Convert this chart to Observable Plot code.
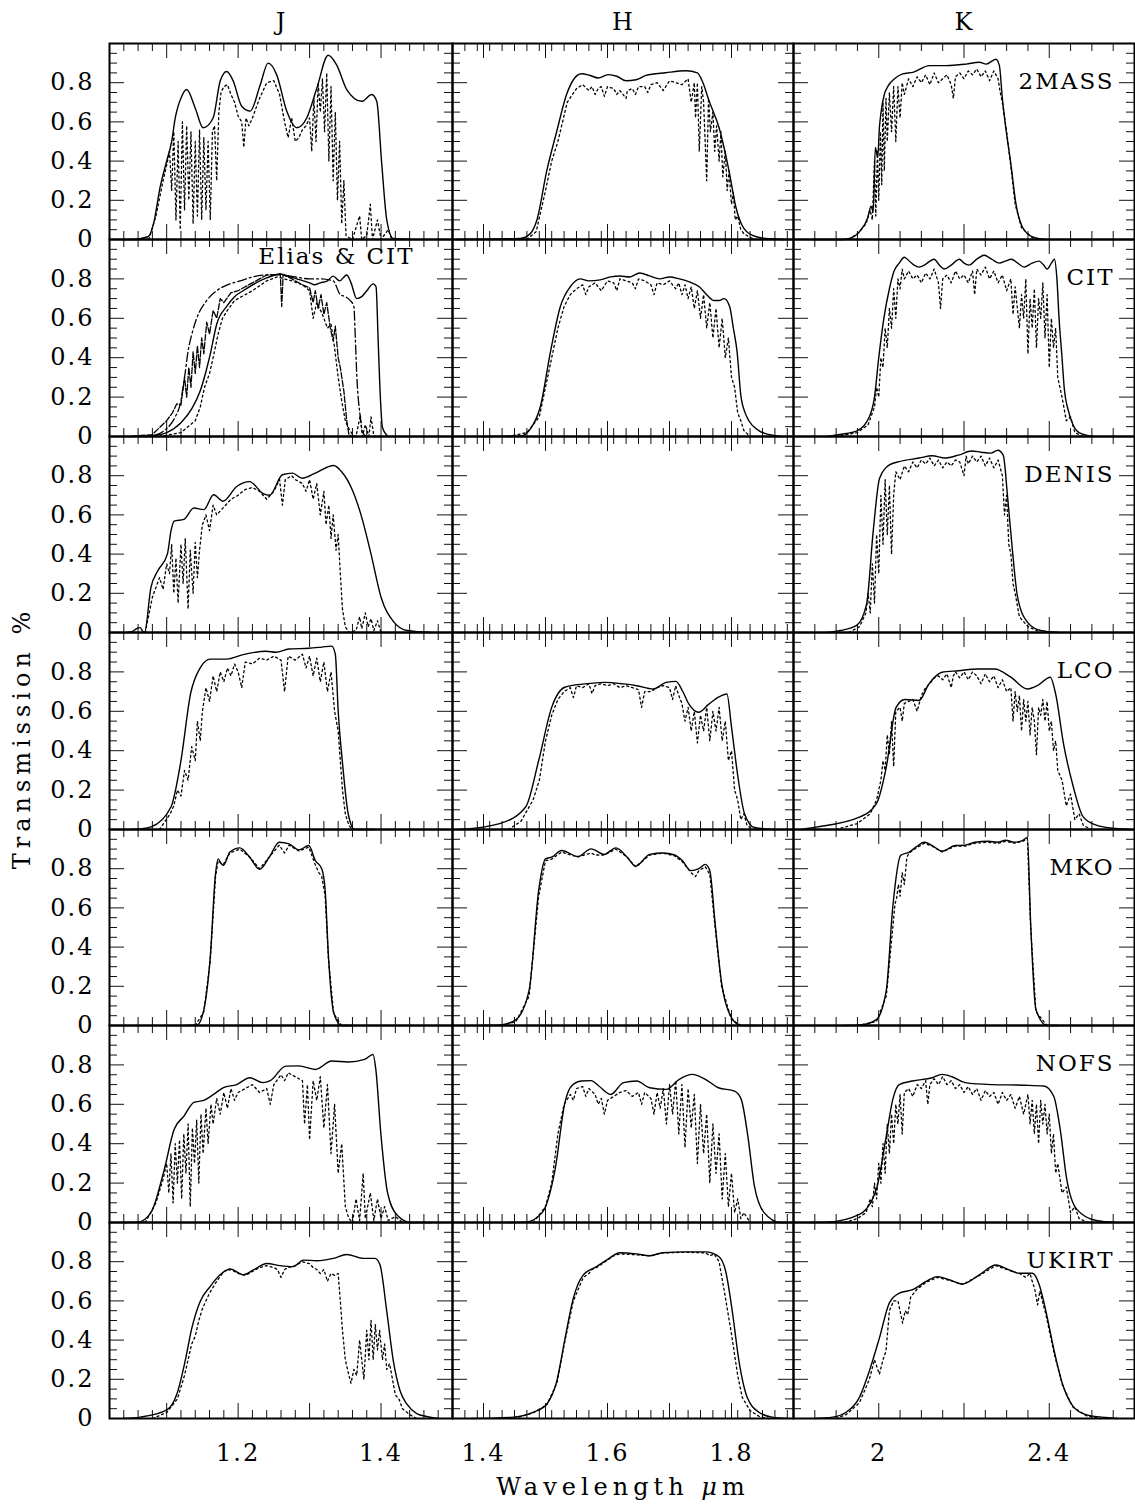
<!DOCTYPE html>
<html><head><meta charset="utf-8">
<script src="https://cdn.jsdelivr.net/npm/d3@7"></script>
<script src="https://cdn.jsdelivr.net/npm/@observablehq/plot@0.6"></script>
<style>
body{margin:0;background:#fff;}
#fig{position:relative;width:1135px;height:1507px;font-family:"DejaVu Serif",serif;color:#000;background:#fff;overflow:hidden;}
.lbl{position:absolute;white-space:nowrap;font-size:23px;transform:translate(-50%,-50%);}
</style></head><body><div id="fig"></div>
<script>
// ---------- axis / tick data ----------
const bands = ["J", "H", "K"];
const systems = ["2MASS", "CIT", "DENIS", "LCO", "MKO", "NOFS", "UKIRT"];
const xDomainJ = [1.02, 1.50];
const xDomainH = [1.35, 1.90];
const xDomainK = [1.80, 2.60];
const xMajorJ = [1.1, 1.2, 1.3, 1.4];
const xMajorH = [1.4, 1.5, 1.6, 1.7, 1.8];
const xMajorK = [2.0, 2.2, 2.4];
const xMinorStep = [0.02, 0.02, 0.05];
const xLabelsJ = [1.2, 1.4];
const xLabelsH = [1.4, 1.6, 1.8];
const xLabelsK = [2, 2.4];
const yLabels = [0, 0.2, 0.4, 0.6, 0.8];
const yMajor = [0.2, 0.4, 0.6, 0.8];

// ---------- 2MASS ----------
const j2massSolid = [[1.04,0],[1.051,0],[1.074,0.014],[1.0816,0.08],[1.091,0.27],[1.100,0.40],[1.107,0.50],[1.112,0.62],[1.121,0.73],[1.128,0.765],[1.140,0.67],[1.151,0.57],[1.165,0.62],[1.175,0.81],[1.184,0.857],[1.193,0.81],[1.205,0.68],[1.217,0.655],[1.231,0.79],[1.242,0.90],[1.254,0.84],[1.268,0.655],[1.282,0.57],[1.296,0.62],[1.310,0.77],[1.326,0.94],[1.338,0.89],[1.352,0.765],[1.373,0.705],[1.387,0.74],[1.394,0.705],[1.401,0.385],[1.408,0.10],[1.417,0.005],[1.44,0]];
const j2massDotted = [[1.075,0],[1.085,0.12],[1.095,0.3],[1.100,0.38],[1.104,0.45],[1.107,0.25],[1.110,0.55],[1.113,0.1],[1.116,0.5],[1.119,0.05],[1.122,0.6],[1.125,0.15],[1.128,0.58],[1.131,0.2],[1.134,0.55],[1.137,0.08],[1.140,0.5],[1.143,0.12],[1.146,0.56],[1.149,0.1],[1.152,0.52],[1.155,0.15],[1.158,0.5],[1.161,0.1],[1.164,0.55],[1.167,0.58],[1.170,0.3],[1.173,0.65],[1.176,0.75],[1.180,0.78],[1.185,0.79],[1.190,0.74],[1.195,0.7],[1.200,0.63],[1.205,0.6],[1.208,0.47],[1.211,0.62],[1.215,0.58],[1.220,0.62],[1.230,0.72],[1.240,0.8],[1.250,0.81],[1.258,0.74],[1.265,0.6],[1.270,0.52],[1.275,0.62],[1.280,0.5],[1.285,0.52],[1.290,0.56],[1.295,0.58],[1.300,0.62],[1.303,0.45],[1.306,0.72],[1.309,0.5],[1.312,0.8],[1.315,0.65],[1.318,0.82],[1.321,0.55],[1.324,0.85],[1.327,0.4],[1.330,0.78],[1.333,0.3],[1.336,0.65],[1.339,0.2],[1.342,0.5],[1.345,0.08],[1.348,0.3],[1.351,0.02],[1.355,0.01],[1.36,0],[1.37,0.12],[1.373,0],[1.38,0.02],[1.385,0.18],[1.388,0],[1.395,0.1],[1.40,0],[1.41,0.05],[1.415,0]];
const h2massSolid = [[1.358,0],[1.459,0.005],[1.4755,0.03],[1.486,0.098],[1.502,0.35],[1.518,0.55],[1.534,0.74],[1.545,0.815],[1.558,0.846],[1.571,0.838],[1.585,0.824],[1.601,0.841],[1.615,0.833],[1.630,0.81],[1.646,0.815],[1.662,0.837],[1.694,0.851],[1.727,0.861],[1.745,0.85],[1.753,0.807],[1.764,0.706],[1.780,0.57],[1.796,0.35],[1.807,0.166],[1.817,0.073],[1.833,0.022],[1.855,0.005],[1.885,0]];
const h2massDotted = [[1.47,0],[1.485,0.04],[1.5,0.25],[1.51,0.4],[1.52,0.5],[1.535,0.7],[1.55,0.77],[1.56,0.79],[1.57,0.76],[1.575,0.78],[1.58,0.74],[1.585,0.77],[1.59,0.78],[1.595,0.73],[1.6,0.78],[1.61,0.77],[1.615,0.74],[1.62,0.76],[1.63,0.72],[1.632,0.76],[1.64,0.77],[1.645,0.74],[1.65,0.78],[1.66,0.78],[1.665,0.75],[1.67,0.79],[1.68,0.8],[1.69,0.76],[1.70,0.81],[1.71,0.8],[1.72,0.79],[1.73,0.82],[1.735,0.7],[1.74,0.8],[1.742,0.62],[1.745,0.8],[1.748,0.45],[1.752,0.78],[1.755,0.7],[1.76,0.3],[1.763,0.72],[1.766,0.55],[1.77,0.65],[1.773,0.45],[1.776,0.58],[1.78,0.4],[1.783,0.55],[1.786,0.32],[1.79,0.45],[1.793,0.25],[1.796,0.35],[1.8,0.18],[1.803,0.24],[1.806,0.1],[1.81,0.12],[1.815,0.05],[1.82,0.03],[1.83,0.01],[1.84,0]];
const k2massSolid = [[1.845,0],[1.915,0],[1.931,0.005],[1.955,0.04],[1.974,0.11],[1.982,0.17],[1.987,0.14],[1.992,0.47],[1.9977,0.42],[2.0015,0.57],[2.0055,0.65],[2.013,0.74],[2.021,0.78],[2.037,0.82],[2.056,0.845],[2.08,0.853],[2.119,0.887],[2.158,0.887],[2.205,0.895],[2.236,0.904],[2.252,0.895],[2.275,0.92],[2.283,0.887],[2.29,0.72],[2.298,0.57],[2.31,0.385],[2.322,0.18],[2.337,0.064],[2.361,0.013],[2.39,0]];
const k2massDotted = [[1.93,0],[1.95,0.03],[1.97,0.08],[1.98,0.15],[1.985,0.1],[1.99,0.4],[1.993,0.12],[1.997,0.45],[2.0,0.2],[2.004,0.55],[2.007,0.28],[2.01,0.7],[2.013,0.35],[2.017,0.72],[2.02,0.5],[2.025,0.75],[2.03,0.55],[2.035,0.78],[2.04,0.5],[2.045,0.78],[2.05,0.62],[2.055,0.8],[2.06,0.74],[2.07,0.82],[2.08,0.78],[2.09,0.83],[2.1,0.8],[2.11,0.84],[2.12,0.79],[2.13,0.85],[2.14,0.8],[2.15,0.82],[2.16,0.84],[2.17,0.79],[2.175,0.72],[2.18,0.83],[2.19,0.85],[2.2,0.82],[2.21,0.86],[2.22,0.84],[2.23,0.87],[2.24,0.83],[2.25,0.86],[2.26,0.81],[2.27,0.86],[2.28,0.82],[2.285,0.75],[2.29,0.7],[2.3,0.55],[2.31,0.37],[2.32,0.18],[2.335,0.06],[2.36,0.01],[2.38,0]];

// ---------- Elias & CIT ----------
const jCitSolid = [[1.07,0],[1.081,0.005],[1.1,0.02],[1.12,0.07],[1.135,0.14],[1.147,0.232],[1.155,0.33],[1.161,0.418],[1.17,0.57],[1.184,0.66],[1.195,0.71],[1.207,0.74],[1.225,0.78],[1.24,0.805],[1.259,0.825],[1.273,0.81],[1.287,0.795],[1.3,0.78],[1.307,0.77],[1.315,0.78],[1.325,0.79],[1.333,0.814],[1.342,0.79],[1.352,0.82],[1.358,0.78],[1.366,0.70],[1.373,0.71],[1.38,0.74],[1.389,0.775],[1.393,0.76],[1.396,0.485],[1.3986,0.232],[1.402,0.046],[1.41,0]];
const jCitDotted = [[1.09,0],[1.12,0.02],[1.14,0.08],[1.147,0.15],[1.153,0.25],[1.16,0.32],[1.165,0.4],[1.172,0.52],[1.178,0.6],[1.185,0.64],[1.195,0.69],[1.21,0.72],[1.22,0.74],[1.24,0.79],[1.255,0.81],[1.265,0.8],[1.275,0.79],[1.29,0.77],[1.3,0.74],[1.305,0.6],[1.31,0.68],[1.318,0.62],[1.325,0.55],[1.33,0.57],[1.335,0.45],[1.34,0.3],[1.345,0.18],[1.35,0.08],[1.355,0.04],[1.36,0.01],[1.365,0],[1.371,0.11],[1.374,0],[1.378,0.06],[1.383,0],[1.386,0.1],[1.39,0],[1.4,0]];
const jEliasDashDot = [[1.06,0],[1.08,0.005],[1.1,0.04],[1.112,0.1],[1.119,0.166],[1.125,0.3],[1.13,0.434],[1.136,0.53],[1.142,0.6],[1.156,0.69],[1.17,0.74],[1.185,0.77],[1.203,0.79],[1.22,0.81],[1.24,0.82],[1.26,0.82],[1.28,0.81],[1.3,0.8],[1.315,0.8],[1.333,0.79],[1.343,0.72],[1.35,0.71],[1.357,0.69],[1.362,0.66],[1.364,0.5],[1.366,0.316],[1.371,0.097],[1.374,0.02],[1.38,0]];
const jEliasAtm = [[1.05,0],[1.08,0.01],[1.1,0.08],[1.108,0.12],[1.114,0.165],[1.12,0.16],[1.125,0.3],[1.128,0.2],[1.131,0.35],[1.134,0.25],[1.137,0.43],[1.14,0.32],[1.143,0.46],[1.146,0.35],[1.149,0.5],[1.152,0.42],[1.156,0.58],[1.16,0.52],[1.165,0.64],[1.17,0.6],[1.175,0.70],[1.18,0.68],[1.19,0.73],[1.2,0.74],[1.21,0.76],[1.22,0.78],[1.23,0.8],[1.24,0.82],[1.25,0.82],[1.259,0.825],[1.261,0.66],[1.263,0.82],[1.27,0.81],[1.28,0.79],[1.29,0.77],[1.3,0.755],[1.305,0.68],[1.308,0.74],[1.312,0.65],[1.316,0.72],[1.32,0.62],[1.324,0.68],[1.329,0.55],[1.333,0.485],[1.336,0.56],[1.34,0.4],[1.343,0.35],[1.348,0.23],[1.352,0.08],[1.355,0.01],[1.36,0]];
const hCitSolid = [[1.40,0],[1.46,0.003],[1.476,0.04],[1.492,0.155],[1.508,0.43],[1.524,0.66],[1.54,0.76],[1.556,0.8],[1.57,0.79],[1.588,0.795],[1.605,0.81],[1.62,0.815],[1.636,0.81],[1.652,0.83],[1.668,0.815],[1.684,0.8],[1.7,0.81],[1.716,0.8],[1.732,0.785],[1.748,0.76],[1.76,0.72],[1.772,0.69],[1.78,0.69],[1.788,0.70],[1.797,0.66],[1.803,0.55],[1.809,0.43],[1.815,0.21],[1.822,0.12],[1.828,0.08],[1.844,0.03],[1.86,0.01],[1.88,0]];
const hCitDotted = [[1.44,0],[1.47,0.02],[1.49,0.1],[1.5,0.25],[1.51,0.4],[1.52,0.55],[1.53,0.66],[1.54,0.72],[1.55,0.75],[1.56,0.77],[1.565,0.72],[1.57,0.76],[1.58,0.78],[1.59,0.74],[1.6,0.79],[1.61,0.78],[1.615,0.74],[1.62,0.8],[1.63,0.79],[1.64,0.78],[1.645,0.75],[1.65,0.8],[1.66,0.79],[1.67,0.77],[1.675,0.72],[1.68,0.78],[1.69,0.77],[1.7,0.79],[1.71,0.75],[1.715,0.78],[1.72,0.72],[1.725,0.77],[1.73,0.7],[1.735,0.76],[1.74,0.65],[1.745,0.74],[1.75,0.6],[1.755,0.72],[1.76,0.55],[1.765,0.68],[1.77,0.5],[1.775,0.65],[1.78,0.45],[1.785,0.6],[1.79,0.4],[1.795,0.5],[1.8,0.3],[1.805,0.25],[1.81,0.12],[1.815,0.08],[1.82,0.03],[1.83,0]];
const kCitSolid = [[1.88,0],[1.908,0.01],[1.95,0.03],[1.978,0.1],[1.99,0.2],[2.0,0.4],[2.012,0.6],[2.025,0.75],[2.036,0.84],[2.048,0.88],[2.06,0.91],[2.072,0.89],[2.083,0.87],[2.095,0.86],[2.107,0.87],[2.12,0.89],[2.13,0.9],[2.142,0.87],[2.154,0.85],[2.17,0.87],[2.189,0.9],[2.2,0.88],[2.212,0.87],[2.23,0.9],[2.247,0.92],[2.265,0.9],[2.283,0.88],[2.297,0.89],[2.311,0.9],[2.326,0.88],[2.341,0.86],[2.36,0.88],[2.376,0.89],[2.387,0.87],[2.395,0.85],[2.405,0.88],[2.412,0.9],[2.418,0.8],[2.423,0.6],[2.43,0.4],[2.435,0.25],[2.445,0.13],[2.452,0.08],[2.47,0.02],[2.505,0]];
const kCitDotted = [[1.9,0],[1.95,0.02],[1.975,0.06],[1.99,0.15],[1.995,0.25],[2.0,0.2],[2.005,0.4],[2.01,0.35],[2.015,0.55],[2.02,0.45],[2.025,0.65],[2.03,0.55],[2.035,0.75],[2.04,0.6],[2.045,0.8],[2.05,0.75],[2.055,0.85],[2.06,0.8],[2.07,0.84],[2.08,0.8],[2.09,0.82],[2.1,0.78],[2.11,0.83],[2.12,0.8],[2.13,0.85],[2.14,0.78],[2.145,0.65],[2.15,0.8],[2.16,0.82],[2.17,0.78],[2.18,0.84],[2.19,0.8],[2.2,0.82],[2.21,0.78],[2.22,0.84],[2.225,0.72],[2.23,0.85],[2.24,0.82],[2.25,0.86],[2.26,0.8],[2.27,0.84],[2.28,0.78],[2.29,0.82],[2.3,0.74],[2.31,0.8],[2.315,0.62],[2.32,0.76],[2.33,0.55],[2.335,0.72],[2.34,0.6],[2.345,0.8],[2.35,0.42],[2.355,0.7],[2.36,0.55],[2.365,0.75],[2.37,0.45],[2.375,0.7],[2.38,0.6],[2.385,0.78],[2.39,0.5],[2.395,0.72],[2.4,0.35],[2.405,0.6],[2.41,0.45],[2.415,0.55],[2.42,0.3],[2.43,0.2],[2.44,0.08],[2.45,0.1],[2.46,0.02],[2.48,0]];

// ---------- DENIS ----------
const jDenisSolid = [[1.045,0],[1.052,0.005],[1.058,0.02],[1.063,0.025],[1.067,0.003],[1.069,0],[1.078,0.23],[1.0876,0.315],[1.101,0.40],[1.106,0.517],[1.1105,0.568],[1.124,0.577],[1.138,0.635],[1.152,0.627],[1.1656,0.703],[1.179,0.67],[1.198,0.745],[1.216,0.77],[1.2345,0.71],[1.244,0.70],[1.262,0.805],[1.276,0.813],[1.2897,0.787],[1.308,0.813],[1.3337,0.852],[1.3448,0.82],[1.3586,0.737],[1.372,0.60],[1.386,0.40],[1.40,0.18],[1.418,0.053],[1.4366,0.01],[1.47,0]];
const jDenisDotted = [[1.07,0],[1.08,0.18],[1.09,0.28],[1.095,0.22],[1.10,0.35],[1.104,0.3],[1.107,0.45],[1.11,0.2],[1.113,0.38],[1.116,0.15],[1.12,0.45],[1.123,0.25],[1.126,0.48],[1.13,0.12],[1.133,0.42],[1.137,0.2],[1.14,0.46],[1.143,0.28],[1.146,0.42],[1.15,0.55],[1.155,0.6],[1.16,0.52],[1.165,0.65],[1.17,0.6],[1.175,0.62],[1.18,0.64],[1.19,0.68],[1.2,0.7],[1.21,0.73],[1.22,0.74],[1.23,0.72],[1.24,0.68],[1.25,0.72],[1.258,0.78],[1.262,0.65],[1.266,0.78],[1.275,0.8],[1.28,0.78],[1.29,0.76],[1.295,0.72],[1.3,0.78],[1.305,0.68],[1.31,0.76],[1.315,0.6],[1.32,0.72],[1.323,0.55],[1.327,0.65],[1.33,0.48],[1.333,0.6],[1.337,0.42],[1.34,0.5],[1.343,0.3],[1.346,0.12],[1.35,0.03],[1.355,0],[1.365,0.01],[1.37,0.08],[1.373,0.02],[1.378,0.1],[1.382,0.03],[1.386,0.07],[1.39,0.01],[1.395,0.06],[1.4,0]];
const kDenisSolid = [[1.88,0],[1.91,0.01],[1.948,0.036],[1.9716,0.146],[1.987,0.517],[2.002,0.787],[2.025,0.855],[2.048,0.872],[2.0946,0.89],[2.1255,0.902],[2.155,0.89],[2.187,0.905],[2.218,0.926],[2.24,0.92],[2.263,0.915],[2.2795,0.93],[2.292,0.905],[2.3025,0.686],[2.313,0.433],[2.3257,0.18],[2.3487,0.053],[2.3796,0.01],[2.42,0]];
const kDenisDotted = [[1.93,0],[1.955,0.03],[1.97,0.1],[1.975,0.2],[1.98,0.1],[1.985,0.35],[1.99,0.15],[1.995,0.5],[2.0,0.3],[2.005,0.7],[2.01,0.45],[2.015,0.78],[2.02,0.5],[2.025,0.75],[2.03,0.4],[2.035,0.7],[2.04,0.82],[2.05,0.78],[2.06,0.85],[2.07,0.82],[2.08,0.87],[2.09,0.84],[2.1,0.88],[2.11,0.86],[2.12,0.89],[2.13,0.85],[2.14,0.88],[2.15,0.84],[2.16,0.87],[2.17,0.85],[2.18,0.88],[2.19,0.87],[2.2,0.8],[2.205,0.9],[2.21,0.86],[2.22,0.9],[2.23,0.87],[2.24,0.9],[2.25,0.85],[2.26,0.89],[2.27,0.84],[2.28,0.88],[2.29,0.8],[2.295,0.6],[2.3,0.7],[2.305,0.45],[2.31,0.4],[2.315,0.25],[2.32,0.2],[2.33,0.08],[2.35,0.03],[2.38,0]];

// ---------- LCO ----------
const jLcoSolid = [[1.05,0],[1.063,0.003],[1.0783,0.013],[1.106,0.114],[1.12,0.35],[1.1334,0.688],[1.1473,0.823],[1.161,0.865],[1.184,0.865],[1.207,0.888],[1.239,0.905],[1.253,0.90],[1.271,0.916],[1.299,0.92],[1.317,0.926],[1.331,0.931],[1.336,0.89],[1.34,0.604],[1.3466,0.317],[1.354,0.08],[1.363,0],[1.39,0]];
const jLcoDotted = [[1.09,0],[1.105,0.08],[1.11,0.12],[1.115,0.2],[1.12,0.17],[1.125,0.3],[1.13,0.25],[1.135,0.42],[1.14,0.35],[1.143,0.55],[1.147,0.45],[1.15,0.6],[1.155,0.72],[1.16,0.65],[1.165,0.78],[1.17,0.7],[1.175,0.8],[1.18,0.75],[1.185,0.82],[1.19,0.78],[1.195,0.84],[1.2,0.8],[1.205,0.72],[1.21,0.85],[1.22,0.84],[1.23,0.87],[1.24,0.86],[1.25,0.88],[1.26,0.86],[1.265,0.7],[1.27,0.88],[1.28,0.86],[1.29,0.89],[1.295,0.82],[1.3,0.88],[1.305,0.78],[1.31,0.87],[1.315,0.75],[1.32,0.85],[1.325,0.7],[1.33,0.8],[1.335,0.6],[1.34,0.5],[1.343,0.35],[1.346,0.2],[1.35,0.08],[1.355,0.02],[1.36,0]];
const hLcoSolid = [[1.363,0],[1.426,0.03],[1.468,0.114],[1.489,0.35],[1.510,0.62],[1.531,0.722],[1.563,0.739],[1.5946,0.747],[1.626,0.739],[1.647,0.73],[1.6735,0.713],[1.6947,0.747],[1.7104,0.752],[1.721,0.703],[1.7316,0.635],[1.747,0.595],[1.763,0.635],[1.779,0.672],[1.7926,0.688],[1.80,0.52],[1.8104,0.266],[1.821,0.08],[1.837,0.01],[1.87,0]];
const hLcoDotted = [[1.44,0],[1.46,0.04],[1.48,0.15],[1.49,0.25],[1.5,0.45],[1.51,0.58],[1.52,0.66],[1.53,0.7],[1.54,0.72],[1.545,0.67],[1.55,0.73],[1.56,0.72],[1.57,0.74],[1.575,0.69],[1.58,0.73],[1.59,0.74],[1.6,0.73],[1.61,0.74],[1.62,0.72],[1.63,0.73],[1.64,0.72],[1.65,0.71],[1.655,0.62],[1.66,0.7],[1.67,0.7],[1.68,0.72],[1.69,0.73],[1.7,0.72],[1.705,0.66],[1.71,0.73],[1.715,0.68],[1.72,0.64],[1.725,0.55],[1.73,0.62],[1.735,0.5],[1.74,0.6],[1.745,0.44],[1.75,0.58],[1.755,0.5],[1.76,0.62],[1.765,0.45],[1.77,0.6],[1.775,0.5],[1.78,0.62],[1.785,0.45],[1.79,0.55],[1.795,0.35],[1.8,0.4],[1.805,0.2],[1.81,0.15],[1.815,0.05],[1.82,0.08],[1.825,0.02],[1.835,0]];
const kLcoSolid = [[1.82,0],[1.848,0.01],[1.956,0.064],[1.9945,0.131],[2.0177,0.317],[2.0407,0.62],[2.061,0.66],[2.0946,0.655],[2.1178,0.739],[2.1485,0.798],[2.187,0.806],[2.233,0.815],[2.2717,0.815],[2.31,0.773],[2.3487,0.713],[2.372,0.73],[2.4025,0.773],[2.415,0.688],[2.4335,0.435],[2.4565,0.216],[2.4796,0.064],[2.5103,0.022],[2.5565,0.005],[2.59,0]];
const kLcoDotted = [[1.9,0],[1.95,0.03],[1.98,0.08],[1.995,0.15],[2.005,0.25],[2.01,0.35],[2.015,0.3],[2.02,0.48],[2.025,0.38],[2.03,0.55],[2.035,0.32],[2.04,0.6],[2.05,0.62],[2.055,0.55],[2.06,0.64],[2.07,0.65],[2.08,0.66],[2.09,0.6],[2.1,0.68],[2.11,0.72],[2.12,0.74],[2.13,0.77],[2.14,0.78],[2.15,0.76],[2.16,0.79],[2.17,0.72],[2.175,0.78],[2.18,0.8],[2.19,0.77],[2.2,0.8],[2.21,0.76],[2.22,0.8],[2.23,0.78],[2.24,0.74],[2.25,0.79],[2.26,0.75],[2.27,0.78],[2.28,0.72],[2.29,0.76],[2.3,0.7],[2.31,0.72],[2.315,0.55],[2.32,0.7],[2.325,0.6],[2.33,0.68],[2.335,0.5],[2.34,0.66],[2.345,0.55],[2.35,0.65],[2.355,0.48],[2.36,0.62],[2.365,0.55],[2.37,0.38],[2.375,0.62],[2.38,0.58],[2.385,0.66],[2.39,0.55],[2.395,0.65],[2.4,0.5],[2.405,0.55],[2.41,0.4],[2.415,0.45],[2.42,0.3],[2.43,0.25],[2.44,0.12],[2.45,0.18],[2.46,0.05],[2.47,0.08],[2.48,0.02],[2.5,0]];

// ---------- MKO ----------
const jMkoSolid = [[1.13,0],[1.1427,0.003],[1.152,0.08],[1.161,0.35],[1.1684,0.775],[1.172,0.85],[1.1765,0.825],[1.1795,0.817],[1.1885,0.885],[1.2024,0.906],[1.216,0.86],[1.23,0.797],[1.2438,0.86],[1.2575,0.935],[1.2713,0.927],[1.285,0.896],[1.2989,0.918],[1.308,0.842],[1.317,0.80],[1.3218,0.69],[1.3264,0.353],[1.3337,0.066],[1.3448,0],[1.36,0]];
const jMkoDotted = [[1.14,0],[1.152,0.07],[1.161,0.33],[1.1684,0.76],[1.172,0.84],[1.179,0.82],[1.1885,0.88],[1.2024,0.9],[1.216,0.86],[1.23,0.8],[1.2438,0.86],[1.2575,0.92],[1.265,0.88],[1.2713,0.92],[1.285,0.89],[1.2989,0.91],[1.308,0.82],[1.313,0.78],[1.317,0.76],[1.3218,0.66],[1.3264,0.34],[1.3337,0.06],[1.3448,0]];
const hMkoSolid = [[1.4,0],[1.426,0.002],[1.4524,0.03],[1.4736,0.18],[1.489,0.69],[1.4999,0.85],[1.5104,0.86],[1.526,0.893],[1.5524,0.862],[1.5735,0.901],[1.5946,0.873],[1.6136,0.906],[1.6314,0.86],[1.6452,0.813],[1.6683,0.873],[1.6894,0.88],[1.7084,0.87],[1.721,0.84],[1.7346,0.79],[1.7473,0.80],[1.7578,0.822],[1.765,0.79],[1.7736,0.52],[1.784,0.218],[1.80,0.04],[1.8157,0],[1.84,0]];
const hMkoDotted = [[1.43,0],[1.4524,0.02],[1.4736,0.15],[1.489,0.66],[1.4999,0.84],[1.5104,0.85],[1.526,0.885],[1.54,0.87],[1.5524,0.86],[1.5735,0.88],[1.58,0.87],[1.5946,0.87],[1.6136,0.9],[1.6314,0.86],[1.6452,0.81],[1.6683,0.87],[1.6894,0.88],[1.7084,0.865],[1.721,0.835],[1.7346,0.78],[1.742,0.76],[1.7473,0.79],[1.7578,0.81],[1.765,0.77],[1.7736,0.5],[1.784,0.2],[1.80,0.03],[1.8157,0]];
const kMkoSolid = [[1.92,0],[1.956,0.002],[1.9945,0.03],[2.0177,0.18],[2.033,0.607],[2.0515,0.868],[2.0716,0.885],[2.087,0.91],[2.107,0.935],[2.1255,0.918],[2.1485,0.89],[2.1794,0.918],[2.2024,0.92],[2.2256,0.935],[2.2563,0.94],[2.2795,0.935],[2.2978,0.945],[2.318,0.935],[2.338,0.945],[2.3487,0.96],[2.3564,0.52],[2.3688,0.08],[2.3948,0],[2.42,0]];
const kMkoDotted = [[1.95,0],[1.9945,0.02],[2.0177,0.15],[2.033,0.5],[2.038,0.62],[2.042,0.65],[2.046,0.72],[2.05,0.66],[2.055,0.78],[2.06,0.72],[2.066,0.86],[2.0716,0.88],[2.087,0.905],[2.107,0.93],[2.1255,0.915],[2.1485,0.885],[2.1794,0.915],[2.2024,0.915],[2.2256,0.93],[2.2563,0.935],[2.2795,0.93],[2.2978,0.94],[2.318,0.93],[2.338,0.94],[2.3487,0.955],[2.3564,0.5],[2.3688,0.07],[2.3948,0]];

// ---------- NOFS ----------
const jNofsSolid = [[1.04,0],[1.06,0.002],[1.078,0.05],[1.0967,0.27],[1.1105,0.473],[1.1242,0.54],[1.138,0.61],[1.152,0.62],[1.1656,0.65],[1.1795,0.685],[1.198,0.70],[1.216,0.735],[1.2345,0.71],[1.245,0.72],[1.2667,0.794],[1.285,0.795],[1.308,0.777],[1.331,0.82],[1.354,0.815],[1.377,0.828],[1.3888,0.853],[1.3926,0.78],[1.40,0.44],[1.409,0.153],[1.423,0.035],[1.4413,0],[1.47,0]];
const jNofsDotted = [[1.07,0],[1.085,0.1],[1.095,0.22],[1.1,0.3],[1.103,0.15],[1.106,0.35],[1.109,0.1],[1.112,0.4],[1.115,0.2],[1.118,0.42],[1.121,0.12],[1.124,0.45],[1.127,0.25],[1.13,0.5],[1.133,0.08],[1.136,0.48],[1.139,0.3],[1.142,0.52],[1.145,0.2],[1.148,0.55],[1.151,0.35],[1.155,0.58],[1.158,0.4],[1.162,0.6],[1.165,0.5],[1.17,0.63],[1.175,0.55],[1.18,0.66],[1.185,0.58],[1.19,0.68],[1.195,0.62],[1.2,0.66],[1.21,0.68],[1.22,0.7],[1.23,0.66],[1.24,0.68],[1.245,0.6],[1.25,0.7],[1.26,0.75],[1.265,0.72],[1.27,0.76],[1.28,0.74],[1.29,0.72],[1.293,0.5],[1.297,0.7],[1.3,0.42],[1.305,0.72],[1.31,0.62],[1.315,0.74],[1.32,0.48],[1.325,0.7],[1.33,0.35],[1.335,0.6],[1.34,0.25],[1.345,0.4],[1.35,0.08],[1.355,0.02],[1.36,0],[1.365,0.12],[1.37,0.01],[1.375,0.25],[1.378,0.02],[1.385,0.15],[1.39,0.01],[1.395,0.12],[1.4,0.02],[1.405,0.08],[1.41,0.01],[1.42,0.03],[1.43,0]];
const hNofsSolid = [[1.44,0],[1.468,0.002],[1.4945,0.05],[1.5155,0.27],[1.5314,0.61],[1.542,0.693],[1.5577,0.718],[1.5735,0.72],[1.586,0.693],[1.605,0.65],[1.626,0.71],[1.647,0.718],[1.668,0.684],[1.6947,0.676],[1.7157,0.727],[1.7367,0.752],[1.7578,0.727],[1.7789,0.684],[1.805,0.667],[1.8157,0.625],[1.8263,0.44],[1.8369,0.186],[1.8526,0.05],[1.8789,0],[1.89,0]];
const hNofsDotted = [[1.48,0],[1.5,0.08],[1.51,0.2],[1.52,0.45],[1.53,0.6],[1.54,0.65],[1.545,0.62],[1.55,0.68],[1.56,0.69],[1.565,0.64],[1.57,0.68],[1.58,0.65],[1.585,0.6],[1.59,0.63],[1.595,0.55],[1.6,0.62],[1.61,0.64],[1.62,0.66],[1.63,0.67],[1.64,0.64],[1.65,0.66],[1.655,0.6],[1.66,0.66],[1.67,0.63],[1.675,0.55],[1.68,0.66],[1.685,0.58],[1.69,0.68],[1.695,0.5],[1.7,0.7],[1.705,0.55],[1.71,0.72],[1.715,0.45],[1.72,0.7],[1.725,0.38],[1.73,0.68],[1.735,0.48],[1.74,0.65],[1.745,0.3],[1.75,0.6],[1.755,0.35],[1.76,0.55],[1.765,0.2],[1.77,0.5],[1.775,0.25],[1.78,0.45],[1.785,0.12],[1.79,0.35],[1.795,0.08],[1.8,0.25],[1.805,0.05],[1.81,0.12],[1.815,0.02],[1.82,0.05],[1.83,0]];
const kNofsSolid = [[1.84,0],[1.879,0.002],[1.956,0.043],[1.9945,0.17],[2.0177,0.44],[2.033,0.625],[2.048,0.70],[2.079,0.718],[2.1255,0.735],[2.1485,0.752],[2.1717,0.74],[2.2024,0.71],[2.264,0.70],[2.341,0.697],[2.3873,0.693],[2.4103,0.642],[2.4257,0.473],[2.441,0.22],[2.4642,0.068],[2.51,0.01],[2.556,0]];
const kNofsDotted = [[1.92,0],[1.95,0.02],[1.97,0.05],[1.98,0.12],[1.985,0.08],[1.99,0.2],[1.995,0.12],[2.0,0.3],[2.005,0.2],[2.01,0.4],[2.015,0.25],[2.02,0.5],[2.025,0.35],[2.03,0.55],[2.035,0.4],[2.04,0.6],[2.045,0.5],[2.05,0.65],[2.055,0.45],[2.06,0.66],[2.07,0.68],[2.08,0.64],[2.09,0.7],[2.1,0.68],[2.11,0.72],[2.115,0.6],[2.12,0.7],[2.13,0.73],[2.14,0.7],[2.15,0.74],[2.16,0.7],[2.17,0.72],[2.18,0.68],[2.19,0.7],[2.2,0.66],[2.21,0.69],[2.22,0.65],[2.23,0.68],[2.24,0.62],[2.25,0.67],[2.26,0.64],[2.27,0.66],[2.28,0.6],[2.29,0.66],[2.3,0.62],[2.31,0.65],[2.32,0.58],[2.33,0.64],[2.34,0.55],[2.35,0.65],[2.355,0.5],[2.36,0.62],[2.365,0.45],[2.37,0.6],[2.375,0.4],[2.38,0.62],[2.385,0.5],[2.39,0.6],[2.395,0.45],[2.4,0.55],[2.405,0.35],[2.41,0.45],[2.415,0.25],[2.42,0.3],[2.43,0.15],[2.44,0.18],[2.45,0.05],[2.46,0.08],[2.47,0.02],[2.49,0]];

// ---------- UKIRT ----------
const jUkirtSolid = [[1.04,0],[1.063,0.007],[1.1003,0.044],[1.1143,0.125],[1.1259,0.294],[1.1353,0.462],[1.1469,0.597],[1.1608,0.673],[1.1748,0.733],[1.1888,0.763],[1.2074,0.733],[1.2214,0.758],[1.2401,0.791],[1.2587,0.78],[1.2773,0.775],[1.2913,0.808],[1.31,0.805],[1.3333,0.817],[1.352,0.837],[1.3752,0.817],[1.3916,0.817],[1.3986,0.783],[1.408,0.547],[1.4172,0.294],[1.4266,0.142],[1.436,0.074],[1.45,0.025],[1.464,0.01],[1.48,0]];
const jUkirtDotted = [[1.08,0],[1.1,0.03],[1.115,0.1],[1.125,0.22],[1.135,0.38],[1.14,0.42],[1.145,0.5],[1.15,0.56],[1.16,0.64],[1.17,0.7],[1.18,0.75],[1.19,0.76],[1.2,0.74],[1.21,0.73],[1.22,0.75],[1.23,0.77],[1.24,0.78],[1.25,0.77],[1.255,0.76],[1.26,0.72],[1.265,0.76],[1.27,0.77],[1.28,0.78],[1.29,0.8],[1.3,0.79],[1.305,0.77],[1.31,0.76],[1.315,0.74],[1.32,0.76],[1.325,0.7],[1.33,0.74],[1.335,0.73],[1.34,0.74],[1.343,0.6],[1.346,0.45],[1.35,0.3],[1.355,0.22],[1.358,0.18],[1.362,0.25],[1.366,0.22],[1.37,0.4],[1.373,0.3],[1.376,0.2],[1.38,0.45],[1.383,0.3],[1.386,0.5],[1.389,0.3],[1.392,0.48],[1.395,0.35],[1.398,0.45],[1.402,0.3],[1.405,0.38],[1.408,0.25],[1.412,0.28],[1.416,0.2],[1.42,0.12],[1.425,0.1],[1.43,0.05],[1.44,0.02],[1.45,0]];
const hUkirtSolid = [[1.38,0],[1.4487,0.007],[1.4808,0.032],[1.5022,0.074],[1.5183,0.192],[1.5316,0.41],[1.5449,0.614],[1.561,0.733],[1.5824,0.775],[1.5984,0.808],[1.62,0.846],[1.6465,0.84],[1.6678,0.83],[1.689,0.846],[1.7266,0.85],[1.7586,0.85],[1.78,0.825],[1.7907,0.75],[1.8013,0.547],[1.812,0.294],[1.8253,0.108],[1.8441,0.032],[1.8654,0.007],[1.89,0]];
const hUkirtDotted = [[1.45,0],[1.4808,0.03],[1.5022,0.07],[1.5183,0.18],[1.5316,0.4],[1.5449,0.6],[1.561,0.72],[1.57,0.74],[1.575,0.76],[1.5824,0.77],[1.5984,0.805],[1.61,0.83],[1.62,0.84],[1.6465,0.835],[1.6678,0.83],[1.689,0.845],[1.7266,0.848],[1.7586,0.845],[1.765,0.83],[1.772,0.84],[1.78,0.8],[1.79,0.62],[1.8,0.43],[1.81,0.22],[1.8173,0.108],[1.83,0.04],[1.845,0.01],[1.86,0]];
const kUkirtSolid = [[1.85,0],[1.892,0.007],[1.9235,0.032],[1.9547,0.108],[1.978,0.243],[2.0015,0.41],[2.025,0.59],[2.0484,0.64],[2.0796,0.657],[2.111,0.699],[2.1382,0.724],[2.1656,0.708],[2.1968,0.686],[2.2359,0.733],[2.275,0.783],[2.3062,0.758],[2.3297,0.741],[2.3608,0.741],[2.3765,0.682],[2.3922,0.547],[2.4117,0.344],[2.4311,0.176],[2.4546,0.066],[2.486,0.02],[2.533,0.005],[2.56,0]];
const kUkirtDotted = [[1.9,0],[1.9235,0.02],[1.9547,0.08],[1.978,0.2],[1.99,0.3],[2.0015,0.226],[2.01,0.3],[2.017,0.344],[2.025,0.55],[2.035,0.6],[2.045,0.6],[2.056,0.487],[2.062,0.55],[2.068,0.53],[2.075,0.62],[2.09,0.66],[2.111,0.695],[2.1382,0.72],[2.1656,0.705],[2.1968,0.684],[2.2359,0.73],[2.275,0.78],[2.3062,0.755],[2.33,0.74],[2.345,0.72],[2.355,0.74],[2.36,0.7],[2.366,0.66],[2.3726,0.58],[2.378,0.65],[2.3922,0.53],[2.4117,0.33],[2.4311,0.17],[2.4546,0.06],[2.486,0.015],[2.52,0]];

// ---------- layout & drawing ----------
const SOLID = null, DOT = "2,3", DASHDOT = "9,3,2,3", LONGDASH = "6,2";
const xDomains = [xDomainJ, xDomainH, xDomainK];
const xMajors = [xMajorJ, xMajorH, xMajorK];
const xLabelSets = [xLabelsJ, xLabelsH, xLabelsK];
const panelLines = [
  [[[j2massSolid,SOLID],[j2massDotted,DOT]], [[h2massSolid,SOLID],[h2massDotted,DOT]], [[k2massSolid,SOLID],[k2massDotted,DOT]]],
  [[[jCitSolid,SOLID],[jCitDotted,DOT],[jEliasDashDot,DASHDOT],[jEliasAtm,LONGDASH]], [[hCitSolid,SOLID],[hCitDotted,DOT]], [[kCitSolid,SOLID],[kCitDotted,DOT]]],
  [[[jDenisSolid,SOLID],[jDenisDotted,DOT]], [], [[kDenisSolid,SOLID],[kDenisDotted,DOT]]],
  [[[jLcoSolid,SOLID],[jLcoDotted,DOT]], [[hLcoSolid,SOLID],[hLcoDotted,DOT]], [[kLcoSolid,SOLID],[kLcoDotted,DOT]]],
  [[[jMkoSolid,SOLID],[jMkoDotted,DOT]], [[hMkoSolid,SOLID],[hMkoDotted,DOT]], [[kMkoSolid,SOLID],[kMkoDotted,DOT]]],
  [[[jNofsSolid,SOLID],[jNofsDotted,DOT]], [[hNofsSolid,SOLID],[hNofsDotted,DOT]], [[kNofsSolid,SOLID],[kNofsDotted,DOT]]],
  [[[jUkirtSolid,SOLID],[jUkirtDotted,DOT]], [[hUkirtSolid,SOLID],[hUkirtDotted,DOT]], [[kUkirtSolid,SOLID],[kUkirtDotted,DOT]]]
];

const fig = document.getElementById("fig");
const colEdges = [109, 452, 793, 1134];
const rowTop = i => Math.round(43 + i * 196.43);
const fmt = d => String(+d.toFixed(2));
const FONT = "DejaVu Serif, serif";
const MAJ = 15, MIN = 8;
const yMinor = d3.range(0.05, 1.0, 0.05).map(v => +v.toFixed(2)).filter(v => !yMajor.includes(v));

for (let r = 0; r < 7; r++) {
  for (let c = 0; c < 3; c++) {
    const w = colEdges[c + 1] - colEdges[c];
    const top = rowTop(r), h = rowTop(r + 1) - top;
    const dom = xDomains[c];
    const xMinor = d3.range(dom[0] + xMinorStep[c], dom[1] - 1e-6, xMinorStep[c])
      .map(v => +v.toFixed(3)).filter(v => !xMajors[c].some(m => Math.abs(m - v) < 1e-6));
    const marks = [
      Plot.ruleX(xMinor, {insetTop: h - MIN, stroke: "#111", strokeWidth: 1}),
      Plot.ruleX(xMinor, {insetBottom: h - MIN, stroke: "#111", strokeWidth: 1}),
      Plot.ruleX(xMajors[c], {insetTop: h - MAJ, stroke: "#111", strokeWidth: 1}),
      Plot.ruleX(xMajors[c], {insetBottom: h - MAJ, stroke: "#111", strokeWidth: 1}),
      Plot.ruleY(yMinor, {insetRight: w - MIN, stroke: "#111", strokeWidth: 1}),
      Plot.ruleY(yMinor, {insetLeft: w - MIN, stroke: "#111", strokeWidth: 1}),
      Plot.ruleY(yMajor, {insetRight: w - MAJ, stroke: "#111", strokeWidth: 1}),
      Plot.ruleY(yMajor, {insetLeft: w - MAJ, stroke: "#111", strokeWidth: 1})
    ];
    for (const [data, dash] of panelLines[r][c]) {
      marks.push(Plot.line(data, {x: d => d[0], y: d => d[1], stroke: "black",
        strokeWidth: dash === null ? 1.4 : 1.3,
        strokeDasharray: dash, curve: dash === null || dash === DASHDOT ? "monotone-x" : "linear"}));
    }
    marks.push(Plot.frame({stroke: "black", strokeWidth: 2}));
    if (c === 0) {
      marks.push(Plot.text(yLabels, {y: d => d, text: fmt, frameAnchor: "left", textAnchor: "end",
        dx: -15, fontSize: 24, fill: "black"}));
    }
    if (r === 6) {
      marks.push(Plot.text(xLabelSets[c], {x: d => d, text: fmt, frameAnchor: "bottom",
        lineAnchor: "middle", dy: 35, fontSize: 24, fill: "black"}));
    }
    if (c === 2) {
      marks.push(Plot.text([systems[r]], {text: d => d, frameAnchor: "top-right", textAnchor: "end",
        lineAnchor: "middle", dx: -20, dy: 38, fontSize: 23, fill: "black"}));
    }
    if (r === 1 && c === 0) {
      marks.push(Plot.text(["Elias & CIT"], {text: d => d, frameAnchor: "top-right", textAnchor: "end",
        lineAnchor: "middle", dx: -38, dy: 17, fontSize: 23, fill: "black"}));
    }
    const svg = Plot.plot({
      width: w, height: h, margin: 0,
      x: {domain: dom, axis: null},
      y: {domain: [0, 1], axis: null},
      style: {overflow: "visible", background: "none", fontFamily: FONT, letterSpacing: "2px"},
      marks
    });
    svg.style.position = "absolute";
    svg.style.left = colEdges[c] + "px";
    svg.style.top = top + "px";
    fig.appendChild(svg);
  }
}

function addLabel(html, x, y, extra) {
  const d = document.createElement("div");
  d.className = "lbl";
  d.innerHTML = html;
  d.style.left = x + "px";
  d.style.top = y + "px";
  if (extra) Object.assign(d.style, extra);
  fig.appendChild(d);
}
bands.forEach((b, i) => addLabel(b, (colEdges[i] + colEdges[i + 1]) / 2, 22, {fontSize: "24px"}));
addLabel("Wavelength <i>&mu;</i>m", 623, 1487, {letterSpacing: "5px", fontSize: "24px"});
addLabel("Transmission %", 22, 738, {letterSpacing: "5px", fontSize: "24px", transform: "translate(-50%,-50%) rotate(-90deg)"});
</script></body></html>
